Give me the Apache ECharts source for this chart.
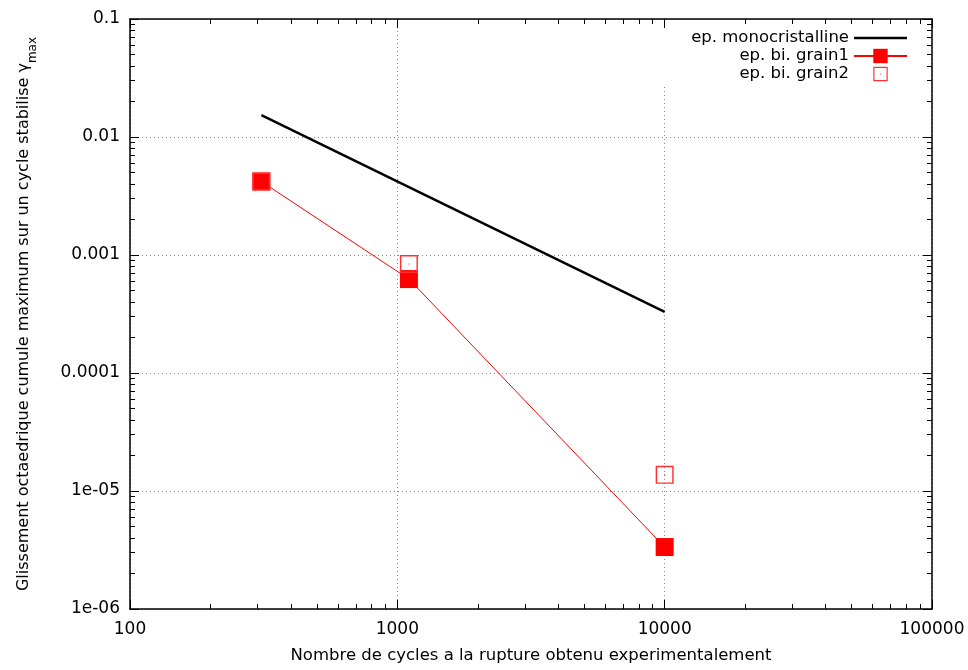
<!DOCTYPE html>
<html><head><meta charset="utf-8">
<script src="https://cdn.jsdelivr.net/npm/echarts@6/dist/echarts.min.js"></script>
<style>html,body{margin:0;padding:0;background:#fff}#c{width:968px;height:670px}</style>
</head><body><div id="c"></div>
<script>
var monoX = [310, 10000];
var monoY = [0.0153, 0.000329];
var grain1X = [310, 1105, 10000];
var grain1Y = [0.0042, 0.000625, 3.35e-6];
var grain2X = [310, 1105, 10000];
var grain2Y = [0.0042, 0.00084, 1.37e-5];
var xMinorTicks = [200,300,400,500,600,700,800,900,2000,3000,4000,5000,6000,7000,8000,9000,20000,30000,40000,50000,60000,70000,80000,90000];
var yMinorTicks = [];
[1e-6,1e-5,1e-4,1e-3,1e-2].forEach(function(d){[2,3,4,5,6,7,8,9].forEach(function(m){yMinorTicks.push(+(d*m).toPrecision(3));});});

var FONT = 'DejaVu Sans, sans-serif';
var chart = echarts.init(document.getElementById('c'), null, {renderer:'canvas'});
var grain2Symbol = 'path://M0,0 L20,0 L20,20 L0,20 Z M1.6,1.6 L1.6,18.4 L18.4,18.4 L18.4,1.6 Z M9.4,9.4 L10.6,9.4 L10.6,10.6 L9.4,10.6 Z';

function fmtY(v){
  var e = Math.round(Math.log10(v));
  if (e >= -4) return String(+v.toPrecision(1));
  return '1e-0' + (-e);
}
function fmtX(v){ return String(Math.round(v)); }

function xAx(pos, major, labels){
  return {
    type:'log', logBase:10, min:100, max:100000, position:pos,
    axisLine:{show:major, lineStyle:{color:'#000', width:1.5}, onZero:false},
    axisTick:major ? {show:true, inside:true, length:9, lineStyle:{color:'#000', width:1}} :
                     {show:true, inside:true, length:5, customValues:xMinorTicks, lineStyle:{color:'#000', width:1}},
    axisLabel:{show:labels, color:'#000', fontFamily:FONT, fontSize:17, margin:12, formatter:fmtX},
    splitLine:{show:(pos==='bottom' && major), lineStyle:{color:'#888', type:[1,3], width:1}},
    minorTick:{show:false}
  };
}
function yAx(pos, major, labels){
  return {
    type:'log', logBase:10, min:1e-6, max:0.1, position:pos,
    axisLine:{show:major, lineStyle:{color:'#000', width:1.5}, onZero:false},
    axisTick:major ? {show:true, inside:true, length:9, lineStyle:{color:'#000', width:1}} :
                     {show:true, inside:true, length:5, customValues:yMinorTicks, lineStyle:{color:'#000', width:1}},
    axisLabel:{show:labels, color:'#000', fontFamily:FONT, fontSize:17, margin:10, formatter:fmtY},
    splitLine:{show:(pos==='left' && major), lineStyle:{color:'#888', type:[1,3], width:1}},
    minorTick:{show:false}
  };
}

var xAxes = [xAx('bottom',true,true), xAx('bottom',false,false), xAx('top',true,false), xAx('top',false,false)];
xAxes[0].name = 'Nombre de cycles a la rupture obtenu experimentalement';
xAxes[0].nameLocation = 'middle';
xAxes[0].nameGap = 38;
xAxes[0].nameTextStyle = {color:'#000', fontFamily:FONT, fontSize:16.5};
var yAxes = [yAx('left',true,true), yAx('left',false,false), yAx('right',true,false), yAx('right',false,false)];
yAxes[0].name = 'Glissement octaedrique cumule maximum sur un cycle stabilise \u03b3{sub|max}';
yAxes[0].nameLocation = 'middle';
yAxes[0].nameGap = 98;
yAxes[0].nameRotate = 90;
yAxes[0].nameTextStyle = {color:'#000', fontFamily:FONT, fontSize:16,
  rich:{sub:{fontFamily:FONT, fontSize:12, color:'#000', verticalAlign:'bottom', padding:[0,0,-7,0]}}};

function pairs(xs, ys){ return xs.map(function(x,i){return [x, ys[i]];}); }

chart.setOption({
  animation:false,
  backgroundColor:'#fff',
  grid:{left:130, right:36, top:19, bottom:61, show:false},
  legend:{
    orient:'vertical', right:60, top:29, align:'right', itemGap:0, itemWidth:53, itemHeight:18,
    backgroundColor:'#fff', padding:[0,0,2,100],
    textStyle:{color:'#000', fontFamily:FONT, fontSize:16.5, lineHeight:18},
    data:[
      {name:'ep. monocristalline', icon:'path://M0,7.7 L53,7.7 L53,10.3 L0,10.3 Z'},
      {name:'ep. bi. grain1'},
      {name:'ep. bi. grain2'}
    ]
  },
  xAxis: xAxes,
  yAxis: yAxes,
  series:[
    {name:'ep. monocristalline', type:'line', data:pairs(monoX, monoY), showSymbol:false, symbol:'none',
     lineStyle:{color:'#000', width:2.5}, itemStyle:{color:'#000'}, z:3},
    {name:'ep. bi. grain1', type:'line', data:pairs(grain1X, grain1Y), symbol:'rect', symbolSize:18, showSymbol:true,
     lineStyle:{color:'#ff0000', width:1}, itemStyle:{color:'#ff0000'}, z:4},
    {name:'ep. bi. grain2', type:'line', data:pairs(grain2X, grain2Y), symbol:grain2Symbol, symbolSize:18, showSymbol:true,
     lineStyle:{width:0, opacity:0}, itemStyle:{color:'#ff3030'}, z:5}
  ]
});
</script></body></html>
